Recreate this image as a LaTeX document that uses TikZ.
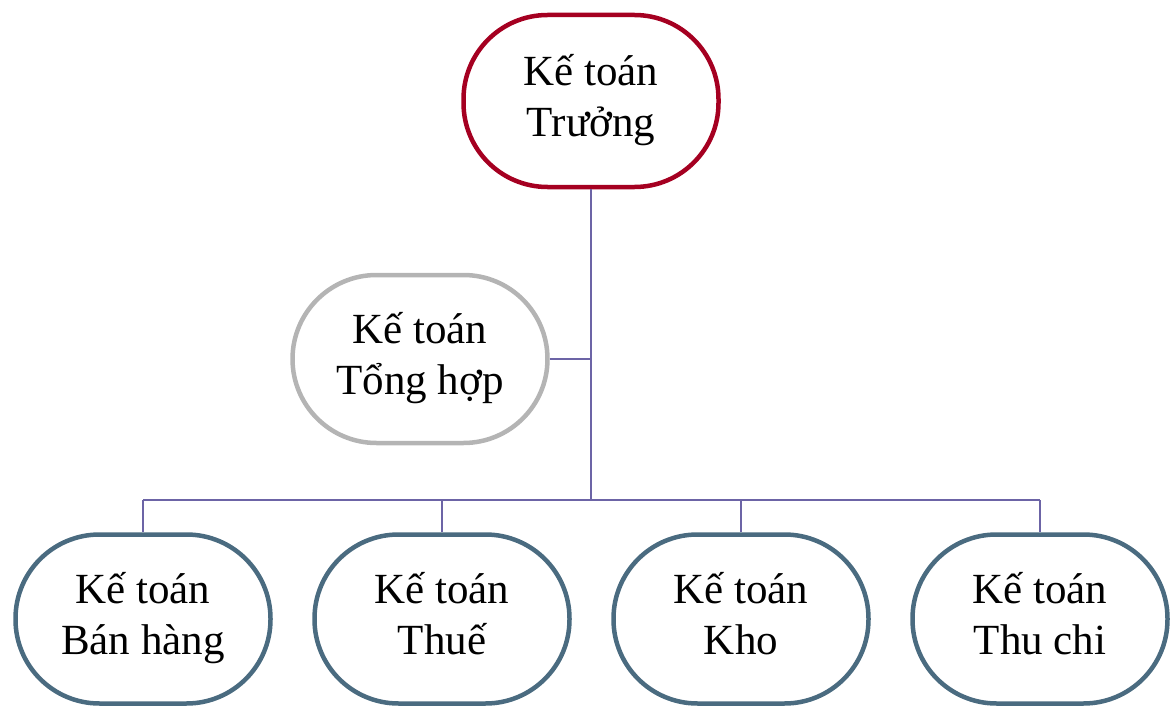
\documentclass[tikz,border=0pt]{standalone}
\usepackage{fontspec}
\setmainfont{Liberation Serif}
\definecolor{topred}{HTML}{A50021}
\definecolor{midgray}{HTML}{B4B4B4}
\definecolor{botblue}{HTML}{4A6B80}
\definecolor{linkc}{HTML}{6C64A6}
\newcommand{\twoline}[2]{#1\strut\\#2\strut}
\tikzset{
  box/.style={draw, line width=4.5pt, rounded corners=84pt, fill=white,
    minimum width=255pt, minimum height=170pt, inner sep=0pt, align=center,
    font=\fontsize{43pt}{51pt}\selectfont},
  topbox/.style={box, draw=topred, minimum height=172pt},
  midbox/.style={box, draw=midgray, minimum height=168pt},
  botbox/.style={box, draw=botblue, minimum height=169pt},
  link/.style={draw=linkc, line width=2pt}
}
\begin{document}
\begin{tikzpicture}[x=1pt,y=-1pt]
\useasboundingbox (0,0) rectangle (1171,709);
\node[topbox] (top) at (591,101) {\twoline{Kế toán}{Trưởng}};
\node[midbox] (mid) at (420,359) {\twoline{Kế toán}{Tổng hợp}};
\node[botbox] (b1) at (143,619) {\twoline{Kế toán}{Bán hàng}};
\node[botbox] (b2) at (442,619) {\twoline{Kế toán}{Thuế}};
\node[botbox] (b3) at (741,619) {\twoline{Kế toán}{Kho}};
\node[botbox] (b4) at (1040,619) {\twoline{Kế toán}{Thu chi}};
\coordinate (hub) at (591,500);
\coordinate (l) at (143,500);
\coordinate (r) at (1040,500);
\draw[link] (top.south) -- (hub);
\draw[link] (mid.east) -- (mid.east -| hub);
\draw[link] (l) -- (r);
\foreach \n in {b1,b2,b3,b4} { \draw[link] (\n.north |- hub) -- (\n.north); }
\end{tikzpicture}
\end{document}
